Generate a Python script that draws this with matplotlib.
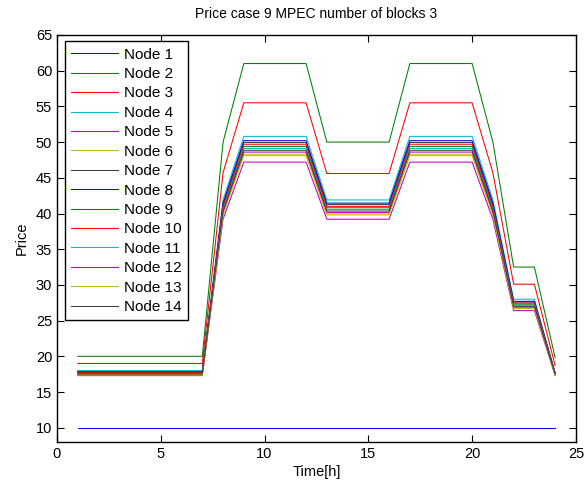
import matplotlib
matplotlib.use("Agg")
import matplotlib.pyplot as plt

plt.rcParams['font.family'] = ['Liberation Sans', 'DejaVu Sans']

hours = list(range(1, 25))

node1 = [10.0]*24
node2 = [20.0, 20.0, 20.0, 20.0, 20.0, 20.0, 20.0, 50.0, 61.0, 61.0, 61.0, 61.0,
         50.0, 50.0, 50.0, 50.0, 61.0, 61.0, 61.0, 61.0, 50.0, 32.5, 32.5, 19.8]
node3 = [19.0, 19.0, 19.0, 19.0, 19.0, 19.0, 19.0, 45.7, 55.5, 55.5, 55.5, 55.5,
         45.6, 45.6, 45.6, 45.6, 55.5, 55.5, 55.5, 55.5, 45.7, 30.1, 30.1, 18.7]
node4 = [18.0, 18.0, 18.0, 18.0, 18.0, 18.0, 18.0, 41.9, 50.8, 50.8, 50.8, 50.8,
         41.9, 41.9, 41.9, 41.9, 50.8, 50.8, 50.8, 50.8, 41.9, 28.0, 28.0, 17.7]
node5 = [17.3, 17.3, 17.3, 17.3, 17.3, 17.3, 17.3, 39.2, 47.2, 47.2, 47.2, 47.2,
         39.2, 39.2, 39.2, 39.2, 47.2, 47.2, 47.2, 47.2, 39.2, 26.4, 26.4, 17.3]
node6 = [17.45, 17.45, 17.45, 17.45, 17.45, 17.45, 17.45, 39.95, 48.3, 48.3, 48.3, 48.3,
         39.95, 39.95, 39.95, 39.95, 48.3, 48.3, 48.3, 48.3, 39.95, 26.8, 26.8, 17.4]
node7 = [17.8, 17.8, 17.8, 17.8, 17.8, 17.8, 17.8, 41.25, 49.95, 49.95, 49.95, 49.95,
         41.25, 41.25, 41.25, 41.25, 49.95, 49.95, 49.95, 49.95, 41.25, 27.6, 27.6, 17.6]
node8 = [17.85, 17.85, 17.85, 17.85, 17.85, 17.85, 17.85, 41.45, 50.2, 50.2, 50.2, 50.2,
         41.45, 41.45, 41.45, 41.45, 50.2, 50.2, 50.2, 50.2, 41.45, 27.7, 27.7, 17.65]
node9 = [17.7, 17.7, 17.7, 17.7, 17.7, 17.7, 17.7, 40.8, 49.4, 49.4, 49.4, 49.4,
         40.8, 40.8, 40.8, 40.8, 49.4, 49.4, 49.4, 49.4, 40.8, 27.3, 27.3, 17.55]
node10 = [17.75, 17.75, 17.75, 17.75, 17.75, 17.75, 17.75, 41.0, 49.7, 49.7, 49.7, 49.7,
          41.0, 41.0, 41.0, 41.0, 49.7, 49.7, 49.7, 49.7, 41.0, 27.45, 27.45, 17.6]
node11 = [17.6, 17.6, 17.6, 17.6, 17.6, 17.6, 17.6, 40.55, 49.1, 49.1, 49.1, 49.1,
          40.55, 40.55, 40.55, 40.55, 49.1, 49.1, 49.1, 49.1, 40.55, 27.15, 27.15, 17.5]
node12 = [17.5, 17.5, 17.5, 17.5, 17.5, 17.5, 17.5, 40.15, 48.6, 48.6, 48.6, 48.6,
          40.15, 40.15, 40.15, 40.15, 48.6, 48.6, 48.6, 48.6, 40.15, 26.9, 26.9, 17.45]
node13 = [17.4, 17.4, 17.4, 17.4, 17.4, 17.4, 17.4, 39.8, 48.1, 48.1, 48.1, 48.1,
          39.8, 39.8, 39.8, 39.8, 48.1, 48.1, 48.1, 48.1, 39.8, 26.7, 26.7, 17.35]
node14 = [17.55, 17.55, 17.55, 17.55, 17.55, 17.55, 17.55, 40.35, 48.85, 48.85, 48.85, 48.85,
          40.35, 40.35, 40.35, 40.35, 48.85, 48.85, 48.85, 48.85, 40.35, 27.0, 27.0, 17.5]

series = [node1, node2, node3, node4, node5, node6, node7,
          node8, node9, node10, node11, node12, node13, node14]
labels = [f"Node {i}" for i in range(1, 15)]

matlab_colors = ['#0000ff', '#008000', '#ff0000', '#00bfbf',
                 '#bf00bf', '#bfbf00', '#404040']

fig = plt.figure(figsize=(5.87, 4.92), dpi=100)
ax = fig.add_axes([0.0971, 0.1016, 0.884, 0.8273])

for i, (vals, lab) in enumerate(zip(series, labels)):
    ax.plot(hours, vals, color=matlab_colors[i % 7], linewidth=0.75, label=lab)

ax.set_xlim(0, 25)
ax.set_ylim(8, 65)
ax.set_xticks(range(0, 26, 5))
ax.set_yticks(range(10, 66, 5))
ax.tick_params(direction='in', top=True, right=True, length=5, width=0.8,
               labelsize=10.5)
for sp in ax.spines.values():
    sp.set_linewidth(1.0)

ax.set_title("Price case 9 MPEC number of blocks 3", fontsize=10, pad=12)
ax.set_xlabel("Time[h]", fontsize=10.5, labelpad=3)
ax.set_ylabel("Price", fontsize=10.5, labelpad=5)

leg = ax.legend(loc='upper left', bbox_to_anchor=(0.015, 0.984),
                borderaxespad=0, fancybox=False, framealpha=1,
                edgecolor='black', fontsize=11, handlelength=3.1,
                handletextpad=0.4, labelspacing=0.355, borderpad=0.4)
leg.get_frame().set_linewidth(1.0)

fig.savefig("out.png", dpi=100)
